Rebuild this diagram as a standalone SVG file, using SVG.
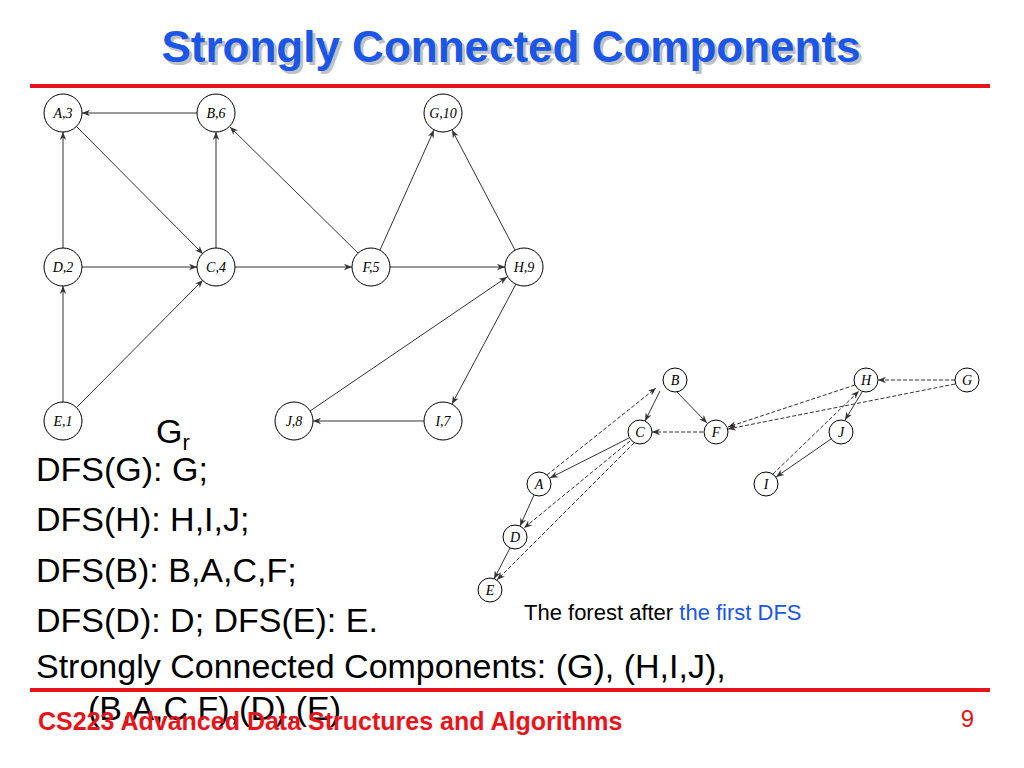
<svg xmlns="http://www.w3.org/2000/svg" width="1024" height="768" viewBox="0 0 1024 768">
<style>
.n circle{fill:#fff;stroke:#000;stroke-width:1}
.n text{font-family:"Liberation Serif",serif;font-style:italic;font-size:14px;text-anchor:middle}
.f text{font-size:14px}
.e line{stroke:#333;stroke-width:1;marker-end:url(#ah)}
.d{stroke-dasharray:4 2}
.body{font-family:"Liberation Sans",Arial,sans-serif;font-size:34px;fill:#000}
</style>
<defs><marker id="ah" viewBox="0 0 10 10" refX="10" refY="5" markerWidth="8" markerHeight="8" orient="auto"><path d="M0,1 L10,5 L0,9 L3,5z" fill="#333"/></marker></defs>
<rect width="1024" height="768" fill="#fff"/>
<text x="514" y="65" font-family="Liberation Sans,Arial,sans-serif" font-size="44" font-weight="bold" text-anchor="middle" fill="#999" opacity="0.6">Strongly Connected Components</text>
<text x="511" y="62" font-family="Liberation Sans,Arial,sans-serif" font-size="44" font-weight="bold" text-anchor="middle" fill="#1a56e8">Strongly Connected Components</text>
<rect x="30" y="84" width="960" height="4" fill="#e8141b"/>
<rect x="30" y="688" width="960" height="4" fill="#e8141b"/>
<g class="e" id="edges">
<line x1="197" y1="113" x2="82" y2="113"/>
<line x1="76" y1="126" x2="203" y2="254"/>
<line x1="63" y1="248" x2="63" y2="132"/>
<line x1="82" y1="267" x2="197" y2="267"/>
<line x1="63" y1="402" x2="63" y2="286"/>
<line x1="76" y1="408" x2="203" y2="280"/>
<line x1="216" y1="248" x2="216" y2="132"/>
<line x1="235" y1="267" x2="352" y2="267"/>
<line x1="358" y1="253" x2="230" y2="127"/>
<line x1="380" y1="250" x2="434" y2="130"/>
<line x1="390" y1="267" x2="505" y2="267"/>
<line x1="515" y1="250" x2="452" y2="130"/>
<line x1="516" y1="284" x2="452" y2="404"/>
<line x1="424" y1="421" x2="313" y2="421"/>
<line x1="310" y1="411" x2="507" y2="277"/>
<line x1="660" y1="391" x2="645" y2="421"/>
<line x1="674" y1="389" x2="707" y2="423"/>
<line x1="629" y1="438" x2="550" y2="478"/>
<line x1="534" y1="495" x2="520" y2="526"/>
<line x1="510" y1="548" x2="494" y2="579"/>
<line x1="862" y1="392" x2="845" y2="420"/>
<line x1="831" y1="439" x2="776" y2="477"/>
<line class="d" x1="955" y1="380" x2="878" y2="380"/>
<line class="d" x1="955" y1="384" x2="728" y2="429"/>
<line class="d" x1="855" y1="385" x2="728" y2="427"/>
<line class="d" x1="703" y1="432" x2="652" y2="432"/>
<line class="d" x1="547" y1="475" x2="656" y2="388"/>
<line class="d" x1="630" y1="441" x2="524" y2="528"/>
<line class="d" x1="634" y1="443" x2="497" y2="580"/>
<line class="d" x1="773" y1="474" x2="859" y2="391"/>
</g>
<g class="n">
<g id="A3"><circle cx="63" cy="113" r="19"/><text x="63" y="118">A,3</text></g>
<g id="B6"><circle cx="216" cy="113" r="19"/><text x="216" y="118">B,6</text></g>
<g id="G10"><circle cx="443" cy="113" r="19"/><text x="443" y="118">G,10</text></g>
<g id="D2"><circle cx="63" cy="267" r="19"/><text x="63" y="272">D,2</text></g>
<g id="C4"><circle cx="216" cy="267" r="19"/><text x="216" y="272">C,4</text></g>
<g id="F5"><circle cx="371" cy="267" r="19"/><text x="371" y="272">F,5</text></g>
<g id="H9"><circle cx="524" cy="267" r="19"/><text x="524" y="272">H,9</text></g>
<g id="E1"><circle cx="63" cy="421" r="19"/><text x="63" y="426">E,1</text></g>
<g id="J8"><circle cx="294" cy="421" r="19"/><text x="294" y="426">J,8</text></g>
<g id="I7"><circle cx="443" cy="421" r="19"/><text x="443" y="426">I,7</text></g>
</g>
<g class="n f">
<g id="fB"><circle cx="675" cy="380" r="12"/><text x="675" y="385">B</text></g>
<g id="fH"><circle cx="866" cy="380" r="12"/><text x="866" y="385">H</text></g>
<g id="fG"><circle cx="967" cy="380" r="12"/><text x="967" y="385">G</text></g>
<g id="fC"><circle cx="640" cy="432" r="12"/><text x="640" y="437">C</text></g>
<g id="fF"><circle cx="716" cy="432" r="12"/><text x="716" y="437">F</text></g>
<g id="fJ"><circle cx="841" cy="432" r="12"/><text x="841" y="437">J</text></g>
<g id="fA"><circle cx="539" cy="484" r="12"/><text x="539" y="489">A</text></g>
<g id="fI"><circle cx="766" cy="484" r="12"/><text x="766" y="489">I</text></g>
<g id="fD"><circle cx="515" cy="537" r="12"/><text x="515" y="542">D</text></g>
<g id="fE"><circle cx="490" cy="590" r="12"/><text x="490" y="595">E</text></g>
</g>
<text x="156" y="443" class="body" font-size="30">G<tspan font-size="22" dy="7">r</tspan></text>
<text x="36" y="481" class="body">DFS(G): G;</text>
<text x="36" y="531" class="body">DFS(H): H,I,J;</text>
<text x="36" y="582" class="body">DFS(B): B,A,C,F;</text>
<text x="36" y="632" class="body">DFS(D): D; DFS(E): E.</text>
<text x="36" y="678" class="body">Strongly Connected Components: (G), (H,I,J),</text>
<text x="88" y="720" class="body">(B,A,C,F),(D),(E)</text>
<text x="524" y="620" font-family="Liberation Sans,Arial,sans-serif" font-size="22">The forest after <tspan fill="#1a56e8">the first DFS</tspan></text>
<text x="38" y="730" font-family="Liberation Sans,Arial,sans-serif" font-size="25" font-weight="bold" fill="#e8141b">CS223 Advanced Data Structures and Algorithms</text>
<text x="974" y="727" font-family="Liberation Sans,Arial,sans-serif" font-size="24" fill="#e8141b" text-anchor="end">9</text>
</svg>
